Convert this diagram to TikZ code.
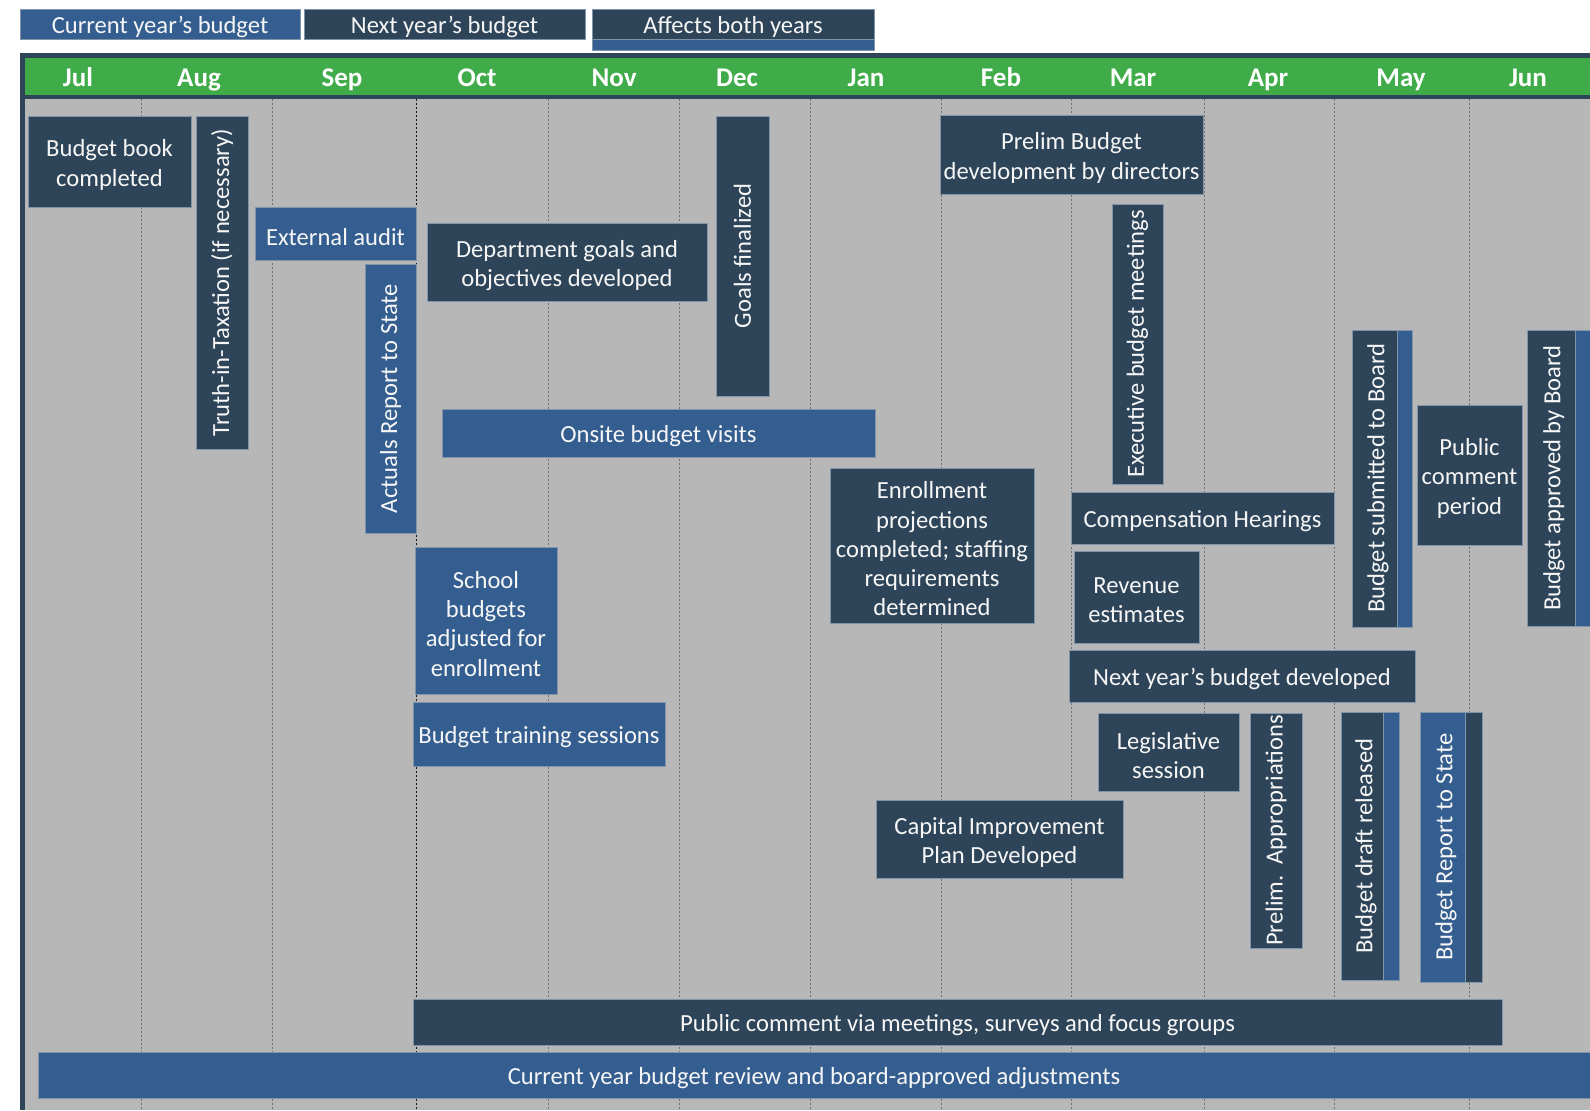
\documentclass[tikz,border=0pt]{standalone}
\usepackage{fontspec}
\setmainfont{Carlito}
\usepackage{tikz}

\begin{document}
\begin{tikzpicture}[x=0.5pt,y=0.5pt,yscale=-1,xscale=1,
  curbox/.style={fill={rgb,255:red,53;green,94;blue,144}, draw={rgb,255:red,128;green,148;blue,170}, line width=0.5},
  nextbox/.style={fill={rgb,255:red,46;green,69;blue,89}, draw={rgb,255:red,128;green,148;blue,170}, line width=0.5},
  lbl/.style={text={rgb,255:red,246;green,246;blue,246}, font=\fontsize{12.3}{14.6}\selectfont, align=center, inner sep=0, yshift=-1.7pt},
  vlbl/.style={text={rgb,255:red,246;green,246;blue,246}, font=\fontsize{12.3}{14.6}\selectfont, inner sep=0, rotate=90},
  month/.style={text=white, font=\bfseries\fontsize{13.5}{16}\selectfont, inner sep=0, anchor=base},
  gridline/.style={draw={rgb,255:red,112;green,112;blue,112}, dash pattern=on 1pt off 1pt, line width=0.4},
  octline/.style={draw={rgb,255:red,20;green,20;blue,20}, dash pattern=on 1pt off 1pt, line width=0.5}]
\useasboundingbox (0,0) rectangle (1590,1110);

%Legend
\draw [curbox] (20,9) rectangle (300,39) node [midway, lbl] (legcur) {Current year’s budget} ;
\draw [nextbox] (304,9) rectangle (585,39) node [midway, lbl] (legnext) {Next year’s budget} ;
\draw [curbox] (592,9) rectangle (874,50) ;
\draw [nextbox] (592,9) rectangle (874,39) node [midway, lbl] (legboth) {Affects both years} ;

%Frame, month bar and background
\fill [fill={rgb,255:red,46;green,69;blue,89}] (20,53) rectangle (1590,1110) ;
\fill [fill={rgb,255:red,63;green,172;blue,73}] (25,58) rectangle (1590,95) ;
\fill [fill={rgb,255:red,183;green,183;blue,183}] (25,99) rectangle (1590,1110) ;

%Month lines
\draw [gridline] (141,99) -- (141,1110) ;
\draw [gridline] (272,99) -- (272,1110) ;
\draw [octline] (416,99) -- (416,1110) ;
\draw [gridline] (548,99) -- (548,1110) ;
\draw [gridline] (679,99) -- (679,1110) ;
\draw [gridline] (810,99) -- (810,1110) ;
\draw [gridline] (941,99) -- (941,1110) ;
\draw [gridline] (1071,99) -- (1071,1110) ;
\draw [gridline] (1204,99) -- (1204,1110) ;
\draw [gridline] (1334,99) -- (1334,1110) ;
\draw [gridline] (1469,99) -- (1469,1110) ;

%Month names
\node [month] (mjul) at (78,86) {Jul} ;
\node [month] (maug) at (199,86) {Aug} ;
\node [month] (msep) at (342,86) {Sep} ;
\node [month] (moct) at (477,86) {Oct} ;
\node [month] (mnov) at (614,86) {Nov} ;
\node [month] (mdec) at (737,86) {Dec} ;
\node [month] (mjan) at (866,86) {Jan} ;
\node [month] (mfeb) at (1001,86) {Feb} ;
\node [month] (mmar) at (1133,86) {Mar} ;
\node [month] (mapr) at (1268,86) {Apr} ;
\node [month] (mmay) at (1401,86) {May} ;
\node [month] (mjun) at (1528,86) {Jun} ;

%Jul - Sep
\draw [nextbox] (28,116) rectangle (191,207) node [midway, lbl] (bookdone) {Budget book\\completed} ;
\draw [nextbox] (196,116) rectangle (248,449) node [midway, vlbl] (truthtax) {Truth-in-Taxation (if necessary)} ;
\draw [curbox] (255,207) rectangle (416,260) node [midway, lbl] (extaudit) {External audit} ;
\draw [curbox] (365,264) rectangle (416,533) node [midway, vlbl] (actuals) {Actuals Report to State} ;

%Oct - Dec
\draw [nextbox] (427,223) rectangle (707,301) node [midway, lbl] (deptgoals) {Department goals and\\objectives developed} ;
\draw [nextbox] (716,116) rectangle (769,396) node [midway, vlbl] (goalsfin) {Goals finalized} ;
\draw [curbox] (442,409) rectangle (875,457) node [midway, lbl] (onsite) {Onsite budget visits} ;
\draw [curbox] (415,547) rectangle (557,694) node [midway, lbl] (schoolbud) {School\\budgets\\adjusted for\\enrollment} ;
\draw [curbox] (413,702) rectangle (665,766) node [midway, lbl] (training) {Budget training sessions} ;

%Jan - Apr
\draw [nextbox] (940,115) rectangle (1203,194) node [midway, lbl] (prelimdev) {Prelim Budget\\development by directors} ;
\draw [nextbox] (1112,204) rectangle (1163,484) node [midway, vlbl] (execmeet) {Executive budget meetings} ;
\draw [nextbox] (830,468) rectangle (1034,623) node [midway, lbl] (enroll) {Enrollment\\projections\\completed; staffing\\requirements\\determined} ;
\draw [nextbox] (1071,492) rectangle (1334,544) node [midway, lbl] (comphear) {Compensation Hearings} ;
\draw [nextbox] (1074,551) rectangle (1199,643) node [midway, lbl] (revenue) {Revenue\\estimates} ;
\draw [nextbox] (1069,650) rectangle (1415,702) node [midway, lbl] (nextdev) {Next year’s budget developed} ;
\draw [nextbox] (1098,713) rectangle (1239,791) node [midway, lbl] (legis) {Legislative\\session} ;
\draw [nextbox] (876,800) rectangle (1123,878) node [midway, lbl] (capital) {Capital Improvement\\Plan Developed} ;
\draw [nextbox] (1250,713) rectangle (1302,948) node [midway, vlbl] (prelimapp) {Prelim.\ \ Appropriations} ;

%May - Jun
\draw [nextbox] (1352,330) rectangle (1397,627) ;
\draw [curbox] (1397,330) rectangle (1412,627) ;
\node [vlbl] (subboard) at (1378,478) {Budget submitted to Board} ;
\draw [nextbox] (1417,405) rectangle (1522,545) node [midway, lbl] (pubcomment) {Public\\comment\\period} ;
\draw [nextbox] (1527,330) rectangle (1575,626) ;
\draw [curbox] (1575,330) rectangle (1590,626) ;
\node [vlbl] (apprboard) at (1554,478) {Budget approved by Board} ;
\draw [nextbox] (1341,712) rectangle (1383,980) ;
\draw [curbox] (1383,712) rectangle (1399,980) ;
\node [vlbl] (draftrel) at (1366,846) {Budget draft released} ;
\draw [curbox] (1420,712) rectangle (1465,982) ;
\draw [nextbox] (1465,712) rectangle (1482,982) ;
\node [vlbl] (reportstate) at (1446,847) {Budget Report to State} ;

%Whole year bars
\draw [nextbox] (413,999) rectangle (1502,1045) node [midway, lbl] (pubvia) {Public comment via meetings, surveys and focus groups} ;
\draw [curbox] (38,1052) rectangle (1590,1098) node [midway, lbl] (curreview) {Current year budget review and board-approved adjustments} ;

\end{tikzpicture}
\end{document}
